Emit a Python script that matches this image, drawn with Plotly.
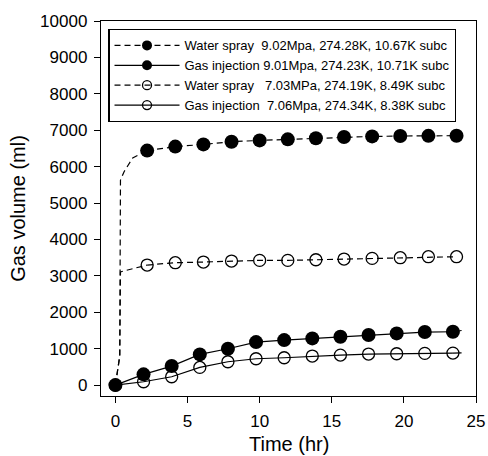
import plotly.graph_objects as go

# ---- data ----
series_names = [
    "Water spray\u00a0\u00a09.02Mpa, 274.28K, 10.67K subc",
    "Gas injection 9.01Mpa, 274.23K, 10.71K subc",
    "Water spray\u00a0\u00a0\u00a07.03MPa, 274.19K, 8.49K subc",
    "Gas injection\u00a0\u00a07.06Mpa, 274.34K, 8.38K subc",
]

t_ws = [2.2, 4.15, 6.1, 8.05, 10.0, 11.95, 13.9, 15.85, 17.8, 19.75, 21.7, 23.65]
ws_902 = [6440, 6550, 6610, 6685, 6720, 6750, 6780, 6815, 6830, 6840, 6845, 6850]
ws_703 = [3297, 3361, 3379, 3407, 3425, 3425, 3443, 3462, 3480, 3498, 3526, 3526]

t_gi = [0, 1.95, 3.9, 5.85, 7.8, 9.75, 11.7, 13.65, 15.6, 17.55, 19.5, 21.45, 23.4]
gi_901 = [0, 294, 522, 843, 998, 1181, 1236, 1282, 1327, 1374, 1419, 1456, 1465]
gi_706 = [0, 92, 229, 485, 641, 723, 751, 797, 824, 852, 861, 870, 879]

# unmarked curve segments (initial rise of water spray, tails of gas injection)
ramp_t_902 = [0, 0.3, 0.35, 0.6, 1.2, 2.2]
ramp_902 = [0, 800, 5630, 5860, 6240, 6440]
ramp_t_703 = [0, 0.3, 0.35, 2.2]
ramp_703 = [0, 800, 3110, 3297]
tail_t = [23.4, 24.0]
tail_901 = [1465, 1500]
tail_706 = [879, 885]

x_ticks = [0, 5, 10, 15, 20, 25]
y_ticks = list(range(0, 10001, 1000))
y_ticktext = [str(v) for v in y_ticks]
x_title = "Time (hr)"
y_title = "Gas volume (ml)"

FONT = "Liberation Sans, Arial, sans-serif"
DASH = "6px,4px"
LW = 1.2

fig = go.Figure()

# connector segments (no markers)
for tx, ty, dash in [(ramp_t_902, ramp_902, DASH), (ramp_t_703, ramp_703, DASH),
                     (tail_t, tail_901, "solid"), (tail_t, tail_706, "solid")]:
    fig.add_trace(go.Scatter(x=tx, y=ty, mode="lines", showlegend=False,
                             line=dict(color="black", width=LW, dash=dash),
                             hoverinfo="skip"))

specs = [
    (t_ws, ws_902, DASH, "circle", 14, 10, 0, 1),
    (t_ws, ws_703, DASH, "circle-open", 12, 9, 1.3, 3),
    (t_gi, gi_706, "solid", "circle-open", 12, 9, 1.3, 4),
    (t_gi, gi_901, "solid", "circle", 14, 10, 0, 2),
]
for tx, ty, dash, sym, ms, lms, mlw, rank in specs:
    name = series_names[rank - 1]
    fig.add_trace(go.Scatter(x=tx, y=ty, mode="lines+markers", showlegend=False,
                             line=dict(color="black", width=LW, dash=dash),
                             marker=dict(symbol=sym, size=ms, color="black",
                                         line=dict(color="black", width=mlw))))
    # legend-only entry
    fig.add_trace(go.Scatter(x=[None], y=[None], mode="lines+markers", name=name,
                             legendrank=rank,
                             line=dict(color="black", width=LW, dash=dash),
                             marker=dict(symbol=sym, size=lms, color="black",
                                         line=dict(color="black", width=mlw))))

axis_common = dict(
    showline=True, linecolor="black", linewidth=1.4, mirror=True,
    ticks="outside", ticklen=6, tickwidth=1.2, tickcolor="black",
    showgrid=False, zeroline=False, automargin=False,
    tickfont=dict(family=FONT, size=17, color="black"),
)

fig.update_layout(
    width=488, height=456,
    margin=dict(l=101, r=12, t=21, b=60),
    paper_bgcolor="white", plot_bgcolor="white",
    font=dict(family=FONT, color="black"),
    xaxis=dict(range=[-1, 25], tickvals=x_ticks, ticklabelstandoff=3,
               **axis_common),
    yaxis=dict(range=[-300, 10000], tickvals=y_ticks, ticktext=y_ticktext,
               ticklabelstandoff=3,
               title=dict(text=y_title, font=dict(family=FONT, size=20), standoff=9),
               **axis_common),
    legend=dict(x=0.0195, y=0.978, xanchor="left", yanchor="top",
                bgcolor="white", bordercolor="black", borderwidth=1.2,
                font=dict(family=FONT, size=13, color="black"),
                itemwidth=65, tracegroupgap=0),
    showlegend=True,
    annotations=[dict(text=x_title, xref="paper", yref="paper", x=0.5, y=0,
                      xanchor="center", yanchor="middle", yshift=-48,
                      showarrow=False, font=dict(family=FONT, size=20, color="black"))],
)

fig.write_html("out.html")
